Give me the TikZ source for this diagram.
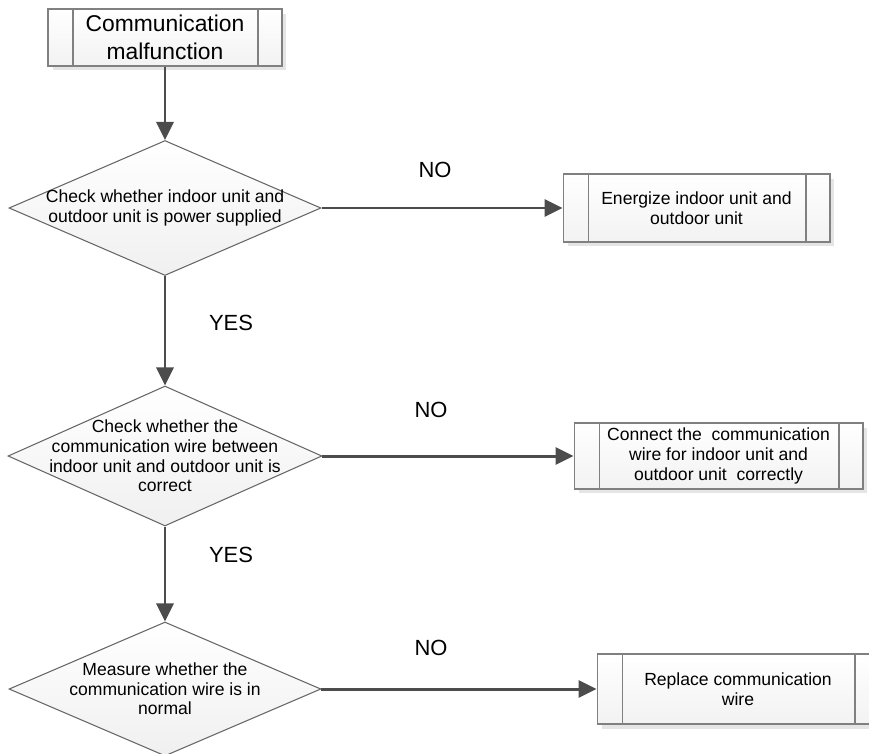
\documentclass[tikz,border=0pt]{standalone}
\usepackage{fontspec}
\setmainfont{Liberation Sans}
\usetikzlibrary{shapes.geometric,arrows.meta,shadows}
\tikzset{
  fcbox/.style={draw=black!50, line width=0.6pt, top color=white, bottom color=black!5,
    drop shadow={shadow xshift=0.09cm, shadow yshift=-0.09cm, fill=black!10, opacity=1},
    inner sep=0pt, align=center, font=\fontsize{10}{11.2}\selectfont,
    path picture={
      \draw[black!50, line width=0.6pt] ([xshift=0.5cm]path picture bounding box.north west) -- ([xshift=0.5cm]path picture bounding box.south west);
      \draw[black!50, line width=0.6pt] ([xshift=-0.48cm]path picture bounding box.north east) -- ([xshift=-0.48cm]path picture bounding box.south east);
    }},
  fcdecision/.style={diamond, draw=black!60, line width=0.6pt, top color=white, bottom color=black!6, inner sep=0pt},
  fctext/.style={font=\fontsize{10}{11.2}\selectfont, align=center, inner sep=0pt},
  fcarrow/.style={line width=1.7pt, draw=black!70, -{Triangle[length=0.36cm,width=0.34cm]}},
  fclabel/.style={font=\fontsize{12.5}{15}\selectfont, inner sep=0pt},
}
\begin{document}
\begin{tikzpicture}[x=0.02cm, y=-0.02cm]
\useasboundingbox (0,0) rectangle (869,754);
% start
\node[fcbox, minimum width=4.68cm, minimum height=1.14cm, font=\fontsize{13}{16}\selectfont] (start) at (165,37.5) {Communication\\malfunction};
% decisions
\node[fcdecision, minimum width=6.24cm, minimum height=2.7cm,
  label={[fctext]center:Check whether indoor unit and\\outdoor unit is power supplied}] (power) at (165,208) {};
\node[fcdecision, minimum width=6.28cm, minimum height=2.8cm,
  label={[fctext]center:Check whether the\\communication wire between\\indoor unit and outdoor unit is\\correct}] (wiring) at (165,456) {};
\node[fcdecision, minimum width=6.24cm, minimum height=2.68cm,
  label={[fctext]center:Measure whether the\\communication wire is in\\normal}] (measure) at (165,689) {};
% actions
\node[fcbox, minimum width=5.34cm, minimum height=1.36cm] (energize) at (696.5,208) {Energize indoor unit and\\outdoor unit};
\node[fcbox, minimum width=5.78cm, minimum height=1.32cm] (connect) at (718.5,456) {Connect the~ communication\\wire for indoor unit and\\outdoor unit~ correctly};
\node[fcbox, minimum width=5.64cm, minimum height=1.4cm] (replace) at (738,689) {Replace communication\\wire};
% labels
\node[fclabel] (no1) at (435,170) {NO};
\node[fclabel] (yes1) at (231,323) {YES};
\node[fclabel] (no2) at (431,410) {NO};
\node[fclabel] (yes2) at (231,555) {YES};
\node[fclabel] (no3) at (431,648) {NO};
% arrows
\draw[fcarrow] (start) -- (power);
\draw[fcarrow] (power) -- (energize);
\draw[fcarrow] (power) -- (wiring);
\draw[fcarrow] (wiring) -- (connect);
\draw[fcarrow] (wiring) -- (measure);
\draw[fcarrow] (measure) -- (replace);
\end{tikzpicture}
\end{document}
